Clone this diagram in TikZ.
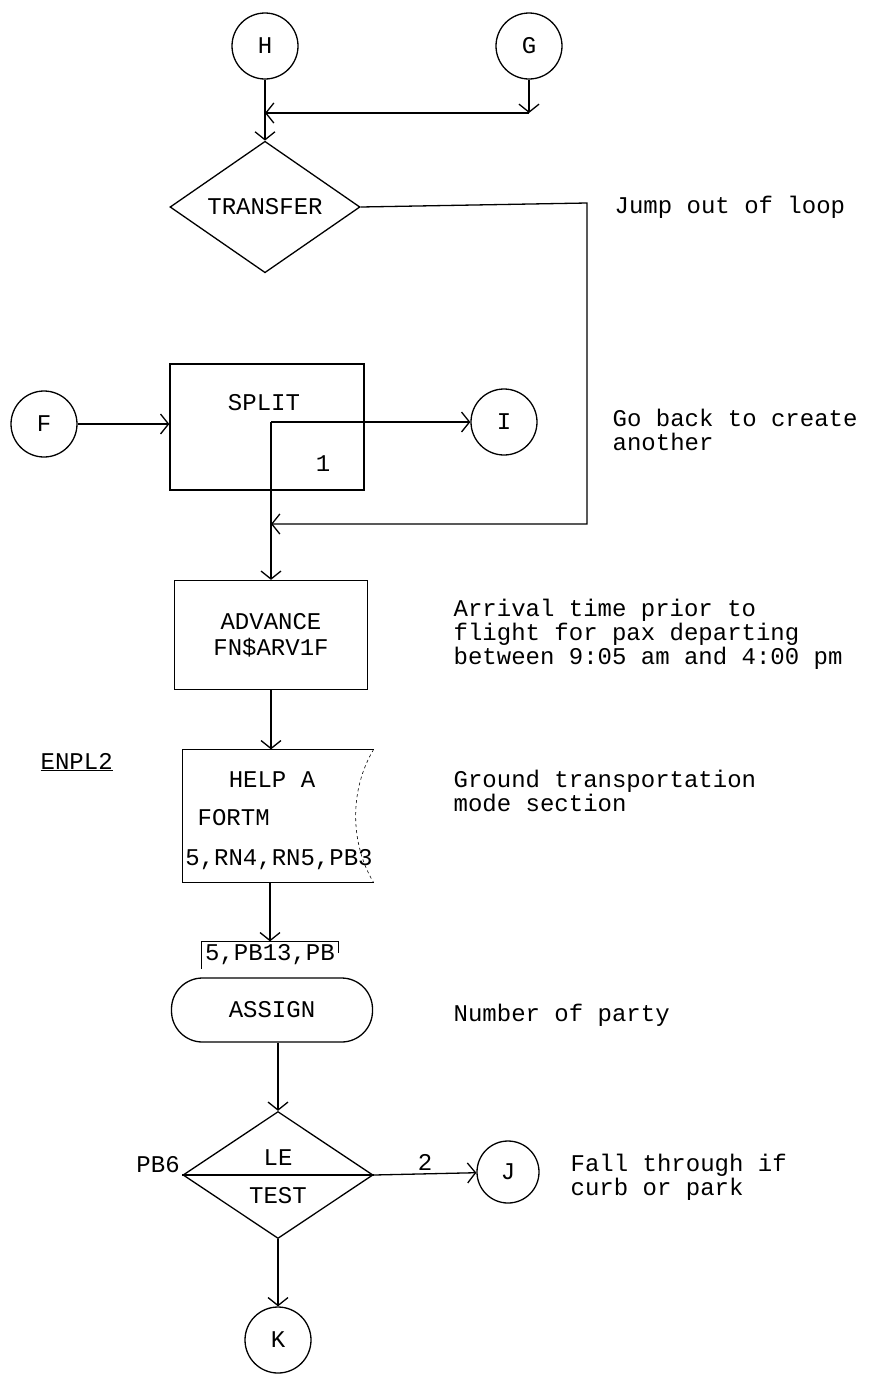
\documentclass[tikz,border=0pt]{standalone}
\usepackage{fontspec}
\setmainfont{Liberation Mono}
\usetikzlibrary{positioning,arrows.meta,shapes.geometric}

\begin{document}
\begin{tikzpicture}[x=1pt,y=-1pt,>={Straight Barb[length=8pt,width=20pt]},line width=1.3pt,
  every node/.style={font=\fontsize{24}{24}\selectfont},
  conn/.style={circle,draw,minimum size=66pt,inner sep=0pt},
  blk/.style={rectangle,draw,inner sep=0pt},
  dec/.style={diamond,draw,inner sep=0pt,minimum width=190pt,minimum height=127pt},
  note/.style={anchor=west,align=left,inner sep=0pt}]
\useasboundingbox (0,0) rectangle (869,1374);
\node[conn] (H) at (265,46) {H};
\node[conn] (G) at (529,46) {G};
\coordinate (gbend) at (529,113);
\coordinate (hjoin) at (265,113);
\node[dec] (transfer) at (265,207) {TRANSFER};
\node[note] (jump) at (614,207) {Jump out of loop};
\draw[->] (H) -- (transfer);
\draw[->] (G) -- (gbend);
\draw[->] (gbend) -- (hjoin);
\node[conn] (F) at (44,424) {F};
\node[blk,minimum width=194pt,minimum height=126pt] (split) at (267,427) {};
\node (splitlbl) at (264,403) {SPLIT};
\node (splitcnt) at (323,464) {1};
\coordinate (scorner) at (271,422);
\node[conn] (I) at (504,422) {I};
\node[note] (goback) at (612,430) {Go back to create\\another};
\draw[->] (F) -- (F -| split.west);
\coordinate (rt) at (587,203);
\coordinate (rb) at (587,524);
\coordinate (rjoin) at (271,524);
\draw[->] (transfer.east) -- (rt) -- (rb) -- (rjoin);
\node[blk,minimum width=193pt,minimum height=109pt,align=center] (advance) at (271,635) {ADVANCE\\[2pt]FN\$ARV1F};
\node[note] (arrival) at (453,634) {Arrival time prior to\\flight for pax departing\\between 9:05 am and 4:00 pm};
\draw[->] (scorner) -- (I);
\draw[->] (scorner) -- (advance);
\node[note] (enpl) at (40,762) {\underline{ENPL2}};
\node[minimum width=190pt,minimum height=132pt,inner sep=0pt] (help) at (278,816) {};
\draw (help.north east) -- (help.north west) -- (help.south west) -- (help.south east);
\draw[line width=0.6pt,dashed] (help.north east) .. controls +(-24,40) and +(-24,-40) .. (help.south east);
\node (helpa) at (272,780) {HELP A};
\node[anchor=west,inner sep=0pt] (fortm) at (197,818) {FORTM};
\node (helpargs) at (279,860) {5,RN4,RN5,PB3};
\node[note] (ground) at (453,791) {Ground transportation\\mode section};
\draw[->] (advance) -- (advance |- help.north);
\node[inner sep=0pt,minimum width=135pt,minimum height=26pt] (parm) at (270,955) {5,PB13,PB};
\draw[line width=0.8pt] (parm.south west) -- (parm.north west) -- (parm.north east) -- ++(0,12);
\draw[->] (help.south -| parm) -- (parm.north);
\node[blk,rounded corners=31pt,minimum width=201pt,minimum height=64pt] (assign) at (272,1010) {ASSIGN};
\node[note] (party) at (453,1015) {Number of party};
\node[dec] (test) at (278,1175) {};
\draw (test.west) -- (test.east);
\node (le) at (278,1158) {LE};
\node (tst) at (278,1196) {TEST};
\node[anchor=south east,inner sep=2pt] (pb6) at (test.west) {PB6};
\draw[->] (assign.south -| test.north) -- (test.north);
\node[conn,minimum size=62pt] (J) at (508,1172) {J};
\draw[->] (test.east) -- (J) node[midway,above,inner sep=3pt] {2};
\node[note] (fall) at (570,1177) {Fall through if\\curb or park};
\node[conn] (K) at (278,1340) {K};
\draw[->] (test) -- (K);
\end{tikzpicture}
\end{document}
